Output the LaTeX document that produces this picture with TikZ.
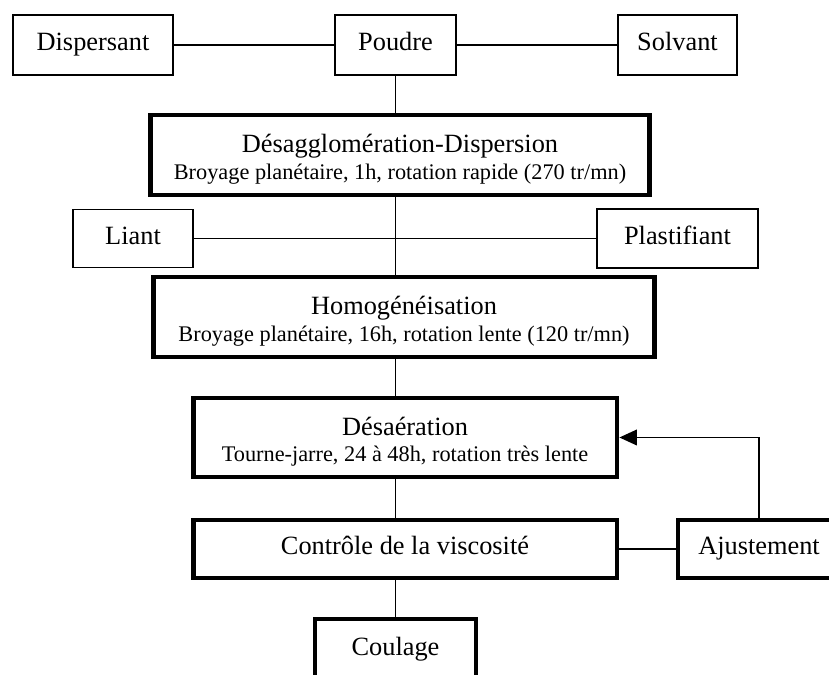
\documentclass[tikz,border=0pt]{standalone}
\usepackage{fontspec}
\setmainfont{Liberation Serif}
\usetikzlibrary{arrows.meta}

\tikzset{
  thinbox/.style={draw, line width=1.1pt, inner sep=0pt, align=center,
    font=\fontsize{15}{17}\selectfont, execute at begin node=\strut},
  thickbox/.style={draw, line width=2.8pt, inner sep=0pt, align=center,
    font=\fontsize{15}{17}\selectfont, execute at begin node=\strut},
  link/.style={line width=0.8pt},
}
\newcommand{\mainline}[1]{\rule{0pt}{17.5pt}#1}
\newcommand{\subline}[1]{{\fontsize{12.7}{14}\selectfont #1\strut}}

\begin{document}
\begin{tikzpicture}[x=0.02cm, y=-0.02cm]
    \useasboundingbox (0,0) rectangle (829,675);

    % Ingredients
    \node[thinbox, minimum width=3.2cm, minimum height=1.2cm] (dispersant) at (93,45) {Dispersant};
    \node[thinbox, minimum width=2.42cm, minimum height=1.2cm] (poudre) at (395.5,45) {Poudre};
    \node[thinbox, minimum width=2.38cm, minimum height=1.2cm] (solvant) at (677.5,45) {Solvant};
    \node[thinbox, minimum width=2.4cm, minimum height=1.16cm] (liant) at (133,238.5) {Liant};
    \node[thinbox, minimum width=3.22cm, minimum height=1.18cm] (plastifiant) at (677.5,238.5) {Plastifiant};

    % Process steps
    \node[thickbox, minimum width=10cm, minimum height=1.6cm] (desagglo) at (400,155)
        {\mainline{Désagglomération-Dispersion}\\[-2pt] \subline{Broyage planétaire, 1h, rotation rapide (270 tr/mn)}};
    \node[thickbox, minimum width=10.04cm, minimum height=1.6cm] (homog) at (404,317)
        {\mainline{Homogénéisation}\\[-2pt] \subline{Broyage planétaire, 16h, rotation lente (120 tr/mn)}};
    \node[thickbox, minimum width=8.48cm, minimum height=1.58cm] (desaer) at (405,437.5)
        {\mainline{Désaération}\\[-2pt] \subline{Tourne-jarre, 24 à 48h, rotation très lente}};
    \node[thickbox, minimum width=8.48cm, minimum height=1.16cm] (controle) at (405,549) {Contrôle de la viscosité};
    \node[thickbox, minimum width=3.24cm, minimum height=1.16cm] (ajust) at (759,549) {Ajustement};
    \node[thickbox, minimum width=3.22cm, minimum height=1.24cm] (coulage) at (395.5,650) {Coulage};

    % Connections
    \draw[link] (dispersant) -- (poudre);
    \draw[link] (poudre) -- (solvant);
    \draw[link] (liant) -- (plastifiant);
    \draw[link] (poudre.south) -- (poudre.south |- desagglo.north);
    \draw[link] (poudre.south |- desagglo.south) -- (poudre.south |- homog.north);
    \draw[link] (poudre.south |- homog.south) -- (poudre.south |- desaer.north);
    \draw[link] (poudre.south |- desaer.south) -- (poudre.south |- controle.north);
    \draw[link] (poudre.south |- controle.south) -- (coulage.north);
    \draw[link] (controle) -- (ajust);
    \draw[link, -{Triangle[length=10pt, width=9pt]}] (ajust.north) |- (desaer.east);
\end{tikzpicture}
\end{document}
